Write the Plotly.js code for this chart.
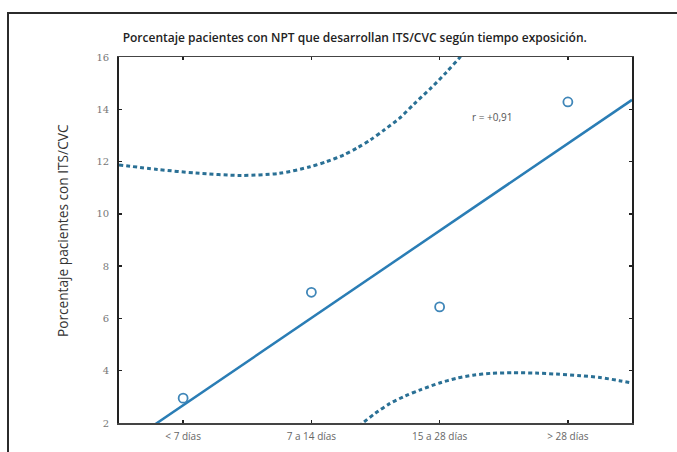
<!DOCTYPE html>
<html>
<head>
<meta charset="utf-8">
<script src="https://cdn.plot.ly/plotly-3.0.1.min.js"></script>
<style>
  html, body { margin: 0; padding: 0; background: #fff; }
  #wrap { position: relative; width: 677px; height: 452px; overflow: hidden; }
  #chart { position: absolute; left: 0; top: 0; width: 677px; height: 452px; }
  #frame { position: absolute; left: 7px; top: 12px; width: 700px; height: 500px;
           border-left: 2px solid #2b2b2b; border-top: 2px solid #2b2b2b; pointer-events: none; }
</style>
</head>
<body>
<div id="wrap">
  <div id="chart"></div>
  <div id="frame"></div>
</div>
<script>
// Categories (exposure time) and observed percentages
const categories = ["< 7 días", "7 a 14 días", "15 a 28 días", "> 28 días"];
const catPos = [1, 2, 3, 4];
const pctValues = [2.95, 7.0, 6.44, 14.28];

// Fitted regression line (at the plot edges)
const fitX = [0.5, 4.5];
const fitY = [1.01, 14.36];

// Upper confidence band
const upperX = [0.5, 0.8, 1.1, 1.45, 1.75, 1.99, 2.12, 2.25, 2.36, 2.46, 2.57, 2.69, 2.8, 2.93, 3.05, 3.16, 3.3, 3.45];
const upperY = [11.87, 11.7, 11.56, 11.47, 11.55, 11.8, 12.0, 12.25, 12.53, 12.83, 13.22, 13.67, 14.2, 14.8, 15.4, 16.0, 16.8, 17.6];

// Lower confidence band
const lowerX = [2.2, 2.4, 2.5, 2.61, 2.73, 2.85, 3.0, 3.13, 3.26, 3.4, 3.57, 3.75, 3.91, 4.1, 4.25, 4.4, 4.5];
const lowerY = [1.2, 2.0, 2.38, 2.74, 3.03, 3.27, 3.53, 3.71, 3.83, 3.9, 3.92, 3.91, 3.87, 3.81, 3.74, 3.62, 3.53];

const yTicks = [2, 4, 6, 8, 10, 12, 14, 16];
const rLabel = "r = +0,91";
const yTitle = "Porcentaje pacientes con ITS/CVC";

const solidColor = "#2a7db5";
const dashColor = "#2a7095";

const traces = [
  { x: upperX, y: upperY, type: "scatter", mode: "lines",
    line: { color: dashColor, width: 3, dash: "4px,3px", shape: "spline", smoothing: 0.8 }, hoverinfo: "skip" },
  { x: lowerX, y: lowerY, type: "scatter", mode: "lines",
    line: { color: dashColor, width: 3, dash: "4px,3px", shape: "spline", smoothing: 0.8 }, hoverinfo: "skip" },
  { x: fitX, y: fitY, type: "scatter", mode: "lines",
    line: { color: solidColor, width: 2.5 }, hoverinfo: "skip" },
  { x: catPos, y: pctValues, type: "scatter", mode: "markers",
    marker: { symbol: "circle-open", size: 9, color: "#3f86b8", line: { width: 1.8, color: "#3f86b8" } } }
];

const layout = {
  width: 677, height: 452,
  margin: { l: 119, r: 45, t: 57, b: 29 },
  paper_bgcolor: "rgba(0,0,0,0)", plot_bgcolor: "#fff",
  showlegend: false,
  title: {
    text: "Porcentaje pacientes con NPT que desarrollan ITS/CVC según tiempo exposición.",
    font: { family: "Open Sans", size: 12, color: "#222", weight: 600 },
    x: 0.524, xanchor: "center", y: 0.916, yanchor: "middle"
  },
  xaxis: {
    range: [0.5, 4.5], tickvals: catPos, ticktext: categories,
    showgrid: false, zeroline: false,
    showline: true, linecolor: "#444", linewidth: 1.5, mirror: "allticks",
    ticks: "inside", ticklen: 3, tickcolor: "#222", tickwidth: 1.5,
    tickfont: { family: "Open Sans", size: 10, color: "#666" },
    ticklabelstandoff: 3
  },
  yaxis: {
    range: [2, 16], tickvals: yTicks,
    showgrid: false, zeroline: false,
    showline: true, linecolor: "#222", linewidth: 1.8, mirror: "allticks",
    ticks: "inside", ticklen: 3, tickcolor: "#222", tickwidth: 1.5,
    tickfont: { family: "DejaVu Serif", size: 10, color: "#777" },
    ticklabelstandoff: 6
  },
  annotations: [
    { x: 3.41, y: 13.7, xref: "x", yref: "y", text: rLabel, showarrow: false,
      font: { family: "Open Sans", size: 10, color: "#555" }, xanchor: "center", yanchor: "middle" },
    { x: -0.109, y: 0.5246, xref: "paper", yref: "paper", text: yTitle, showarrow: false,
      textangle: -90, font: { family: "Open Sans", size: 13.7, color: "#333" },
      xanchor: "center", yanchor: "middle" }
  ]
};

Plotly.newPlot("chart", traces, layout, { displayModeBar: false, staticPlot: true });
</script>
</body>
</html>
